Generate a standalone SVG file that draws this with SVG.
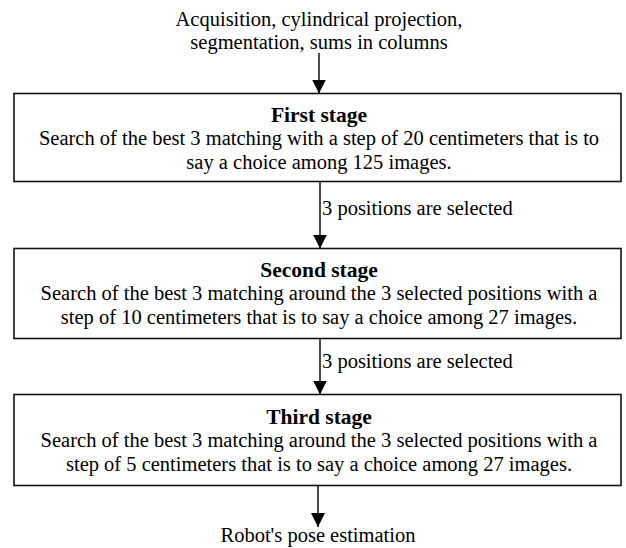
<svg xmlns="http://www.w3.org/2000/svg" width="626" height="548" viewBox="0 0 626 548">
  <style>
    .t { font-family: "Liberation Serif", "Times New Roman", serif; font-size: 20.5px; fill: #000; text-anchor: middle; }
    .b { font-weight: bold; font-size: 21.5px; }
    .l { text-anchor: start; }
    .box { fill: #fff; stroke: #111; stroke-width: 1.6; }
    .con { stroke: #000; stroke-width: 1.4; fill: none; marker-end: url(#arr); }
  </style>
  <defs>
    <marker id="arr" markerUnits="userSpaceOnUse" markerWidth="16" markerHeight="14" refX="14" refY="7" orient="auto">
      <path d="M0,0 L14,7 L0,14 Z" fill="#000"/>
    </marker>
  </defs>
  <rect width="626" height="548" fill="#fff"/>

  <g id="input">
    <text class="t" x="319" y="26">Acquisition, cylindrical projection,</text>
    <text class="t" x="319" y="49">segmentation, sums in columns</text>
  </g>

  <g id="stage1">
    <rect class="box" x="14" y="93.5" width="607" height="88"/>
    <text class="t b" x="319" y="122">First stage</text>
    <text class="t" x="319" y="145">Search of the best 3 matching with a step of 20 centimeters that is to</text>
    <text class="t" x="319" y="169">say a choice among 125 images.</text>
  </g>

  <g id="stage2">
    <rect class="box" x="14" y="248.5" width="607" height="90"/>
    <text class="t b" x="319" y="277">Second stage</text>
    <text class="t" x="319" y="300">Search of the best 3 matching around the 3 selected positions with a</text>
    <text class="t" x="319" y="323.5">step of 10 centimeters that is to say a choice among 27 images.</text>
  </g>

  <g id="stage3">
    <rect class="box" x="14" y="394.5" width="607" height="91"/>
    <text class="t b" x="319" y="423.5">Third stage</text>
    <text class="t" x="319" y="446.5">Search of the best 3 matching around the 3 selected positions with a</text>
    <text class="t" x="319" y="470.5">step of 5 centimeters that is to say a choice among 27 images.</text>
  </g>

  <g id="output">
    <text class="t" x="318" y="542">Robot's pose estimation</text>
  </g>

  <g id="connectors">
    <line class="con" x1="319" y1="53" x2="319" y2="93.5"/>
    <line class="con" x1="320" y1="181.5" x2="320" y2="248.5"/>
    <text class="t l" x="322" y="215">3 positions are selected</text>
    <line class="con" x1="320" y1="338.5" x2="320" y2="394.5"/>
    <text class="t l" x="322" y="368">3 positions are selected</text>
    <line class="con" x1="318" y1="485.5" x2="318" y2="527"/>
  </g>
</svg>
